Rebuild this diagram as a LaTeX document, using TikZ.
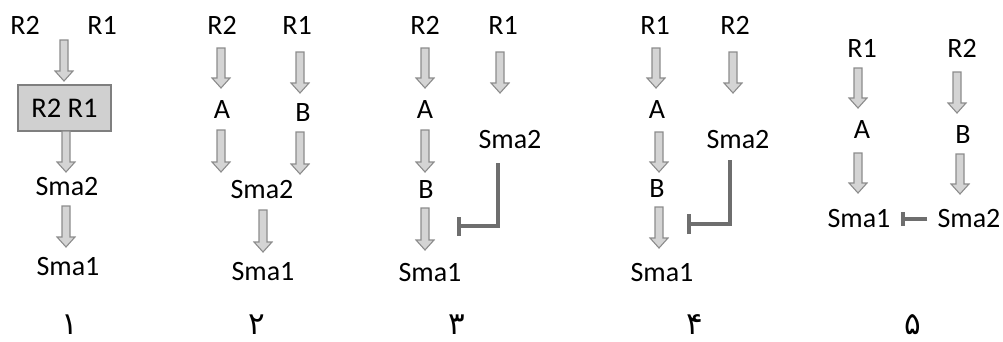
\documentclass[tikz,border=0pt]{standalone}
\usepackage{fontspec}
\setmainfont{Carlito}
\newfontfamily\pfont[Script=Arabic]{DejaVu Sans}
\usetikzlibrary{arrows.meta,calc}
\definecolor{arrfill}{HTML}{D4D4D4}
\definecolor{arrline}{HTML}{8C8C8C}
\definecolor{boxfill}{HTML}{D0D0D0}
\definecolor{boxline}{HTML}{7F7F7F}
\definecolor{inhcol}{HTML}{6E6E6E}
\tikzset{
  lbl/.style={inner sep=0pt, font=\fontsize{28}{30}\selectfont},
  num/.style={inner sep=0pt, font=\pfont\fontsize{31}{34}\selectfont},
  blockarr/.style={fill=arrfill, draw=arrline, line width=1.1pt, line join=miter},
  cbox/.style={fill=boxfill, draw=boxline, line width=1.3pt, minimum width=93pt, minimum height=46pt, inner sep=0pt, font=\fontsize{28.5}{30}\selectfont},
  inh/.style={draw=inhcol, line width=3.6pt, line join=miter},
}
\newcommand{\barrow}[2]{%
  \draw[blockarr] let \p1=(#1), \p2=(#2) in
  (\x1-4pt,\y1) -- (\x1+4pt,\y1) -- (\x1+4pt,\y2+10pt) -- (\x1+9pt,\y2+10pt)
  -- (\x1,\y2) -- (\x1-9pt,\y2+10pt) -- (\x1-4pt,\y2+10pt) -- cycle;}
\begin{document}
\begin{tikzpicture}[x=1pt,y=-1pt]
\useasboundingbox (0,0) rectangle (1003,341);
% ---------- panel 1
\node[lbl] (p1r2) at (25,25) {R2};
\node[lbl] (p1r1) at (102,25) {R1};
\node[cbox] (p1box) at (64.5,108) {R2 R1};
\node[lbl] (p1sma2) at (67,187) {Sma2};
\node[lbl] (p1sma1) at (68,267) {Sma1};
\coordinate (p1a1s) at (64,40); \coordinate (p1a1e) at (64,81);
\coordinate (p1a2s) at (66,131); \coordinate (p1a2e) at (66,172);
\coordinate (p1a3s) at (66,206); \coordinate (p1a3e) at (66,247);
\barrow{p1a1s}{p1a1e}
\barrow{p1a2s}{p1a2e}
\barrow{p1a3s}{p1a3e}
\node[num] (n1) at (70,325) {۱};
% ---------- panel 2
\node[lbl] (p2r2) at (222,25) {R2};
\node[lbl] (p2r1) at (297,25) {R1};
\node[lbl] (p2a) at (222,110) {A};
\node[lbl] (p2b) at (303,113) {B};
\node[lbl] (p2sma2) at (262,190) {Sma2};
\node[lbl] (p2sma1) at (263,272) {Sma1};
\coordinate (p2a1s) at (221,48); \coordinate (p2a1e) at (221,88);
\coordinate (p2a2s) at (300,52); \coordinate (p2a2e) at (300,93);
\coordinate (p2a3s) at (221,130); \coordinate (p2a3e) at (221,172);
\coordinate (p2a4s) at (300,132); \coordinate (p2a4e) at (300,174);
\coordinate (p2a5s) at (263,210); \coordinate (p2a5e) at (263,252);
\barrow{p2a1s}{p2a1e}
\barrow{p2a2s}{p2a2e}
\barrow{p2a3s}{p2a3e}
\barrow{p2a4s}{p2a4e}
\barrow{p2a5s}{p2a5e}
\node[num] (n2) at (257,325) {۲};
% ---------- panel 3
\node[lbl] (p3r2) at (425,25) {R2};
\node[lbl] (p3r1) at (503,25) {R1};
\node[lbl] (p3a) at (425,110) {A};
\node[lbl] (p3b) at (426,190) {B};
\node[lbl] (p3sma1) at (430,273) {Sma1};
\node[lbl] (p3sma2) at (510,140) {Sma2};
\coordinate (p3a1s) at (425,48); \coordinate (p3a1e) at (425,88);
\coordinate (p3a2s) at (500,52); \coordinate (p3a2e) at (500,93);
\coordinate (p3a3s) at (425,130); \coordinate (p3a3e) at (425,172);
\coordinate (p3a4s) at (425,208); \coordinate (p3a4e) at (425,250);
\barrow{p3a1s}{p3a1e}
\barrow{p3a2s}{p3a2e}
\barrow{p3a3s}{p3a3e}
\barrow{p3a4s}{p3a4e}
\coordinate (p3is) at (498,163); \coordinate (p3ie) at (457,226);
\draw[inh,-{Bar[width=19pt]}] (p3is) |- (p3ie);
\node[num] (n3) at (457,325) {۳};
% ---------- panel 4
\node[lbl] (p4r1) at (655,25) {R1};
\node[lbl] (p4r2) at (735,25) {R2};
\node[lbl] (p4a) at (657,110) {A};
\node[lbl] (p4b) at (657,189) {B};
\node[lbl] (p4sma1) at (662,273) {Sma1};
\node[lbl] (p4sma2) at (738,140) {Sma2};
\coordinate (p4a1s) at (656,48); \coordinate (p4a1e) at (656,88);
\coordinate (p4a2s) at (733,52); \coordinate (p4a2e) at (733,93);
\coordinate (p4a3s) at (659,132); \coordinate (p4a3e) at (659,172);
\coordinate (p4a4s) at (659,207); \coordinate (p4a4e) at (659,248);
\barrow{p4a1s}{p4a1e}
\barrow{p4a2s}{p4a2e}
\barrow{p4a3s}{p4a3e}
\barrow{p4a4s}{p4a4e}
\coordinate (p4is) at (730,160); \coordinate (p4ie) at (687,224);
\draw[inh,-{Bar[width=20pt]}] (p4is) |- (p4ie);
\node[num] (n4) at (695,325) {۴};
% ---------- panel 5
\node[lbl] (p5r1) at (862,48) {R1};
\node[lbl] (p5r2) at (962,48) {R2};
\node[lbl] (p5a) at (862,130) {A};
\node[lbl] (p5b) at (963,135) {B};
\node[lbl] (p5sma1) at (859,219) {Sma1};
\node[lbl] (p5sma2) at (969,219) {Sma2};
\coordinate (p5a1s) at (858,68); \coordinate (p5a1e) at (858,108);
\coordinate (p5a2s) at (957,72); \coordinate (p5a2e) at (957,113);
\coordinate (p5a3s) at (858,153); \coordinate (p5a3e) at (858,193);
\coordinate (p5a4s) at (960,154); \coordinate (p5a4e) at (960,194);
\barrow{p5a1s}{p5a1e}
\barrow{p5a2s}{p5a2e}
\barrow{p5a3s}{p5a3e}
\barrow{p5a4s}{p5a4e}
\draw[inh,-{Bar[width=14pt]}] (p5sma2.west) ++(-10,0) coordinate (p5is) -- (p5sma1.east -| 901,0) coordinate (p5ie);
\node[num] (n5) at (913,325) {۵};
\end{tikzpicture}
\end{document}
